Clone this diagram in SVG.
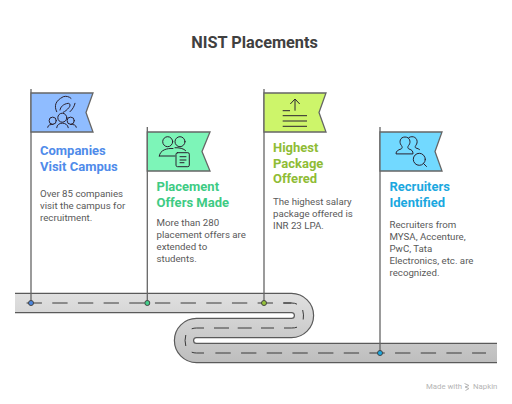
<svg xmlns="http://www.w3.org/2000/svg" width="512" height="404" viewBox="0 0 512 404">
<style>
text{font-family:Roboto,"Liberation Sans",sans-serif}
.t{font-size:16.300px;font-weight:700;fill:#404040}
.h{font-size:13px;font-weight:700}
.b{font-size:9.700px;fill:#595959}
.pole{stroke:#666;stroke-width:1.3;fill:none}
.flag{stroke:#666;stroke-width:1.3}
.ic{fill:none;stroke:#2b2230;stroke-width:1;stroke-linecap:round;stroke-linejoin:round}
.dash{fill:none;stroke:#3a3a3a;stroke-width:1}
.dot{stroke:#444;stroke-width:1}
</style>
<defs>
<linearGradient id="road" gradientUnits="userSpaceOnUse" x1="0" y1="293" x2="0" y2="363"><stop offset="0" stop-color="#e0e0e0"/><stop offset="1" stop-color="#bdbdbd"/></linearGradient>
</defs>
<rect width="512" height="404" fill="#fff"/>
<text class="t" x="254.500" y="48" text-anchor="middle">NIST Placements</text>
<g id="connectors">
<path d="M15 303H291.500A12.500 12.500 0 0 1 291.500 328H196.500A12.500 12.500 0 0 0 196.500 353H497" fill="none" stroke="#5a5a5a" stroke-width="20.400"/>
<path d="M15 303H291.500A12.500 12.500 0 0 1 291.500 328H196.500A12.500 12.500 0 0 0 196.500 353H497" fill="none" stroke="url(#road)" stroke-width="18"/>
<path class="dash" d="M26.600 303H291.500" stroke-dasharray="15.330 10.340"/>
<path class="dash" d="M283.300 303H291.500Q295 303 297 304.200M302.700 310Q304 315 303.200 319.500M297 327.200Q295 328 291.500 328H284M274 328H261M251.700 328H237.700M229 328H214M204 328H196.500Q194 328 191.700 328.800M185.800 335Q184.300 340.500 185.800 346M191.700 352.200Q194 353 196.500 353H204"/>
<path class="dash" d="M215.400 353H486" stroke-dasharray="15.330 10.340"/>
<path class="pole" d="M31 89V303M147.300 127V303M264 89V303M380 127V353"/>
</g>
<g id="node-1">
<path class="flag" d="M31 93H93L86 112.500L93 132H31Z" fill="#8fbcff"/>
<g class="ic"><path d="M56.700 111.700C54 106 55 101 63.300 96.700C66 95.800 69 96.500 71 98.300M60 110C60.500 107 63 104 68.300 103.300C70.500 103.500 70.500 106 69 107.500C67 110 65 111.500 63.300 112.300M75 103.300C74.500 106 72.500 109.500 70 111.700"/><circle cx="62.300" cy="117.700" r="4.500"/><circle cx="52.700" cy="120.700" r="3.600"/><circle cx="70.700" cy="120.700" r="3.600"/><path d="M56.700 127.700C57 121.500 67.500 121.500 68.300 127.700M47.700 127.300C48 125 50 124.300 53 124.400M76.300 127.300C76 125 74 124.300 70.500 124.400"/></g>
<text class="h" fill="#4f8bea"><tspan x="40" y="155">Companies</tspan><tspan x="40" y="171">Visit Campus</tspan></text>
<text class="b"><tspan x="40" y="197">Over 85 companies</tspan><tspan x="40" y="209">visit the campus for</tspan><tspan x="40" y="221">recruitment.</tspan></text>
<circle class="dot" cx="31" cy="303" r="2.500" fill="#4a86e0"/>
</g>
<g id="node-2">
<path class="flag" d="M147.300 132H210L202 151.500L210 171H147.300Z" fill="#7df5b8"/>
<g class="ic"><circle cx="167.700" cy="141.700" r="5"/><circle cx="180" cy="141.700" r="5"/><path d="M159.300 156C160 150 167 148 173 148.500M159.300 156H175M175 147.700C179 147.500 184 148.500 185.700 150.700"/><rect x="176" y="152.700" width="13.300" height="14" rx="1.500"/><path d="M180 156.700H186M180 160H186M180 162.700H184"/></g>
<text class="h" fill="#3ecb84"><tspan x="156.500" y="191">Placement</tspan><tspan x="156.500" y="206.500">Offers Made</tspan></text>
<text class="b"><tspan x="156.500" y="226">More than 280</tspan><tspan x="156.500" y="238">placement offers are</tspan><tspan x="156.500" y="250">extended to</tspan><tspan x="156.500" y="262">students.</tspan></text>
<circle class="dot" cx="147.300" cy="303" r="2.500" fill="#45d08c"/>
</g>
<g id="node-3">
<path class="flag" d="M264 93H326L319 112.500L326 132H264Z" fill="#cdf56a"/>
<g class="ic"><path d="M295 110.700V99M290.300 104L295 99L299.700 104M282.700 110.700H290M282.700 115.700H307M282.700 121H307M282.700 126.300H307" stroke-linecap="butt"/></g>
<text class="h" fill="#8fbc35"><tspan x="273" y="152">Highest</tspan><tspan x="273" y="168">Package</tspan><tspan x="273" y="183">Offered</tspan></text>
<text class="b"><tspan x="273" y="205">The highest salary</tspan><tspan x="273" y="217">package offered is</tspan><tspan x="273" y="229">INR 23 LPA.</tspan></text>
<circle class="dot" cx="264" cy="303" r="2.500" fill="#95c23a"/>
</g>
<g id="node-4">
<path class="flag" d="M380 132H442L435 151.500L442 171H380Z" fill="#72d9ff"/>
<g class="ic"><path d="M396 153.500C396 151 398 150 401 149C403 148 402 146 401 145C399 142 400 137 405 137C410 137 411 142 409 145C408 146 407 148 409 149C412 150 413 151 413 153.500ZM409 137.500C413 135 418 138 417 143C416 146 414 147 416 148C417.500 148.500 419 149 419.500 149.500"/><circle cx="419.300" cy="159.300" r="6"/><path d="M423.500 163.500L426.500 166.500"/></g>
<text class="h" fill="#1ba8e0"><tspan x="389.500" y="191">Recruiters</tspan><tspan x="389.500" y="206.500">Identified</tspan></text>
<text class="b"><tspan x="389.500" y="228">Recruiters from</tspan><tspan x="389.500" y="240">MYSA, Accenture,</tspan><tspan x="389.500" y="252">PwC, Tata</tspan><tspan x="389.500" y="264">Electronics, etc. are</tspan><tspan x="389.500" y="276">recognized.</tspan></text>
<circle class="dot" cx="380" cy="353" r="2.500" fill="#1ba8e0"/>
</g>
<text x="426" y="388.500" font-size="7.800" fill="#b5b5b5">Made with</text>
<path d="M464.500 383.500L469 385.500L465 387L469 388.500L465.500 390.500" fill="none" stroke="#b5b5b5"/>
<text x="473" y="388.500" font-size="7.800" fill="#b5b5b5">Napkin</text>
</svg>
